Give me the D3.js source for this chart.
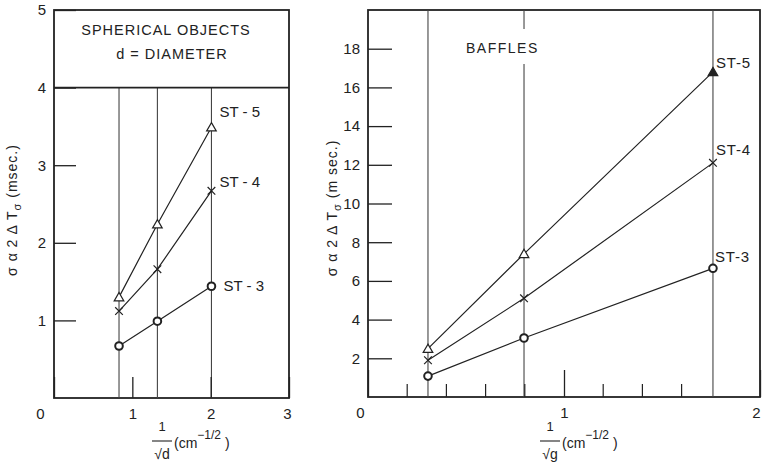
<!DOCTYPE html>
<html>
<head>
<meta charset="utf-8">
<script src="https://cdn.jsdelivr.net/npm/d3@7"></script>
<style>
  body { margin: 0; background: #fff; }
  svg { display: block; font-family: "Liberation Sans", Arial, sans-serif; }
  .axis path { display: none; }
  .axis line { stroke: #222; stroke-width: 1.3; }
  .axis text { font-size: 15px; fill: #222; font-family: "Liberation Sans", Arial, sans-serif; }
</style>
</head>
<body>
<svg id="chart" width="763" height="468"></svg>
<script>
// left panel: spherical objects
const leftX = [0.83, 1.32, 2.01];
const leftST5 = [1.30, 2.24, 3.49];
const leftST4 = [1.12, 1.66, 2.67];
const leftST3 = [0.67, 0.99, 1.44];
const leftXTicks = [0, 1, 2, 3];
const leftYTicks = [1, 2, 3, 4, 5];
const leftNames = ["ST - 5", "ST - 4", "ST - 3"];

// right panel: baffles
const rightX = [0.306, 0.796, 1.76];
const rightST5 = [2.5, 7.4, 16.8];
const rightST4 = [1.9, 5.1, 12.1];
const rightST3 = [1.08, 3.05, 6.65];
const rightXTicks = [0, 1, 2];
const rightXMinor = [0.2, 0.4, 0.6, 0.8, 1.2, 1.4, 1.6];
const rightYTicks = [2, 4, 6, 8, 10, 12, 14, 16, 18];
const rightNames = ["ST-5", "ST-4", "ST-3"];

const markerTypes = ["triangle", "cross", "circle"];

const svg = d3.select("#chart");
const ink = "#222";

function drawMarker(g, type, cx, cy, filled) {
  if (type === "triangle") {
    g.append("path")
      .attr("d", d3.symbol().type(d3.symbolTriangle).size(40)())
      .attr("transform", "translate(" + cx + "," + (cy + 1) + ")")
      .attr("fill", filled ? ink : "#fff").attr("stroke", ink).attr("stroke-width", 1.2);
  } else if (type === "cross") {
    g.append("path")
      .attr("d", d3.symbol().type(d3.symbolX).size(40)())
      .attr("transform", "translate(" + cx + "," + cy + ")")
      .attr("fill", "none").attr("stroke", ink).attr("stroke-width", 1.2);
  } else {
    g.append("circle").attr("cx", cx).attr("cy", cy).attr("r", 3.8)
      .attr("fill", "#fff").attr("stroke", ink).attr("stroke-width", 2);
  }
}

function yLabel(g, cx, cy, unit) {
  let t = g.append("text")
    .attr("transform", "translate(" + cx + "," + cy + ") rotate(-90)")
    .attr("text-anchor", "middle").attr("font-size", 14).attr("fill", ink)
    .attr("letter-spacing", 1);
  t.append("tspan").text("σ α 2 Δ T");
  t.append("tspan").attr("dy", 4).attr("font-size", 11).text("σ");
  t.append("tspan").attr("dy", -4).text(" (" + unit + ")");
}

function xLabel(g, cx, letter) {
  g.append("text").attr("x", cx).attr("y", 431).attr("text-anchor", "middle")
    .attr("font-size", 13).attr("fill", ink).text("1");
  g.append("line").attr("x1", cx - 10).attr("x2", cx + 10).attr("y1", 441).attr("y2", 441)
    .attr("stroke", ink).attr("stroke-width", 1.1);
  g.append("text").attr("x", cx).attr("y", 459).attr("text-anchor", "middle")
    .attr("font-size", 14).attr("fill", ink).text("√" + letter);
  let t = g.append("text").attr("x", cx + 12).attr("y", 448)
    .attr("font-size", 14).attr("fill", ink);
  t.append("tspan").text("(cm");
  t.append("tspan").attr("dy", -9).attr("font-size", 12).text("−1/2");
  t.append("tspan").attr("dy", 9).text(" )");
}

function drawPanel(opt) {
  const g = svg.append("g");
  const x = d3.scaleLinear().domain(opt.xDomain).range(opt.xRange);
  const y = d3.scaleLinear().domain(opt.yDomain).range(opt.yRange);

  // frame
  g.append("rect")
    .attr("x", x(opt.xDomain[0])).attr("y", y(opt.yDomain[1]))
    .attr("width", x(opt.xDomain[1]) - x(opt.xDomain[0]))
    .attr("height", y(opt.yDomain[0]) - y(opt.yDomain[1]))
    .attr("fill", "none").attr("stroke", ink).attr("stroke-width", 1.8);

  // vertical reference lines at the measured abscissae
  g.selectAll("line.vref").data(opt.xs).enter().append("line")
    .attr("class", "vref")
    .attr("x1", d => x(d)).attr("x2", d => x(d))
    .attr("y1", y(opt.vTop)).attr("y2", y(0))
    .attr("stroke", "#444").attr("stroke-width", 1.1);

  // axes
  g.append("g").attr("class", "axis")
    .attr("transform", "translate(" + x(opt.xDomain[0]) + ",0)")
    .call(d3.axisLeft(y).tickValues(opt.yTicks).tickSizeInner(-opt.yTickLen)
      .tickSizeOuter(0).tickPadding(opt.yPad).tickFormat(d3.format("d")));
  const xa = g.append("g").attr("class", "axis")
    .attr("transform", "translate(0," + y(0) + ")")
    .call(d3.axisBottom(x).tickValues(opt.xTicks).tickSizeInner(-opt.xTickLen)
      .tickSizeOuter(0).tickPadding(10).tickFormat(d3.format("d")));
  xa.selectAll(".tick text").attr("dx", d => d === opt.xDomain[0] ? opt.zeroShift
    : (d === opt.xDomain[1] ? opt.endShift : 0));
  if (opt.xMinor) {
    g.selectAll("line.minor").data(opt.xMinor).enter().append("line")
      .attr("x1", d => x(d)).attr("x2", d => x(d))
      .attr("y1", y(0)).attr("y2", y(0) - 13)
      .attr("stroke", ink).attr("stroke-width", 1.2);
  }

  // series
  opt.series.forEach((vals, i) => {
    const pts = opt.xs.map((d, j) => [x(d), y(vals[j])]);
    g.append("path").attr("d", d3.line()(pts))
      .attr("fill", "none").attr("stroke", ink).attr("stroke-width", 1.2);
    pts.forEach((p, j) => drawMarker(g, markerTypes[i], p[0], p[1],
      opt.filledLast && i === 0 && j === pts.length - 1));
    const last = pts[pts.length - 1];
    g.append("text").attr("x", last[0] + opt.labelDx[i]).attr("y", last[1] + opt.labelDy[i])
      .attr("font-size", 15).attr("fill", ink).attr("letter-spacing", opt.labelSpacing)
      .attr("xml:space", "preserve")
      .text(opt.names[i]);
  });
  return { g, x, y };
}

// ---- left panel
const L = drawPanel({
  xDomain: [0, 3], xRange: [54, 289],
  yDomain: [0, 5], yRange: [398, 10],
  xs: leftX, vTop: 4,
  series: [leftST5, leftST4, leftST3], names: leftNames, labelSpacing: 0,
  yTicks: leftYTicks, yTickLen: 22, yPad: 8,
  xTicks: leftXTicks, xTickLen: 21, zeroShift: -14, endShift: -2,
  labelDx: [8, 8, 12], labelDy: [-10, -4, 5]
});
L.g.append("line").attr("x1", L.x(0)).attr("x2", L.x(3)).attr("y1", L.y(4)).attr("y2", L.y(4))
  .attr("stroke", ink).attr("stroke-width", 1.6);
L.g.append("text").attr("x", 166).attr("y", 35).attr("text-anchor", "middle")
  .attr("font-size", 14.5).attr("fill", ink).attr("letter-spacing", 1).text("SPHERICAL  OBJECTS");
L.g.append("text").attr("x", 172).attr("y", 59).attr("text-anchor", "middle")
  .attr("font-size", 14.5).attr("fill", ink).attr("letter-spacing", 1).text("d = DIAMETER");
yLabel(L.g, 17, 210, "msec.");
xLabel(L.g, 162, "d");

// ---- right panel
const R = drawPanel({
  xDomain: [0, 2], xRange: [368, 760],
  yDomain: [0, 20], yRange: [397, 10],
  xs: rightX, vTop: 20,
  series: [rightST5, rightST4, rightST3], names: rightNames, labelSpacing: 0.8,
  yTicks: rightYTicks, yTickLen: 24, yPad: 8,
  xTicks: rightXTicks, xTickLen: 27, xMinor: rightXMinor, zeroShift: -8, endShift: -4,
  labelDx: [3, 3, 2], labelDy: [-4, -8, -6],
  filledLast: true
});
R.g.append("rect").attr("x", 505).attr("y", 29).attr("width", 30).attr("height", 35).attr("fill", "#fff");
R.g.append("text").attr("x", 466).attr("y", 53)
  .attr("font-size", 14).attr("fill", ink).attr("letter-spacing", 1.5).text("BAFFLES");
yLabel(R.g, 337, 208, "m sec.");
xLabel(R.g, 550, "g");
</script>
</body>
</html>
